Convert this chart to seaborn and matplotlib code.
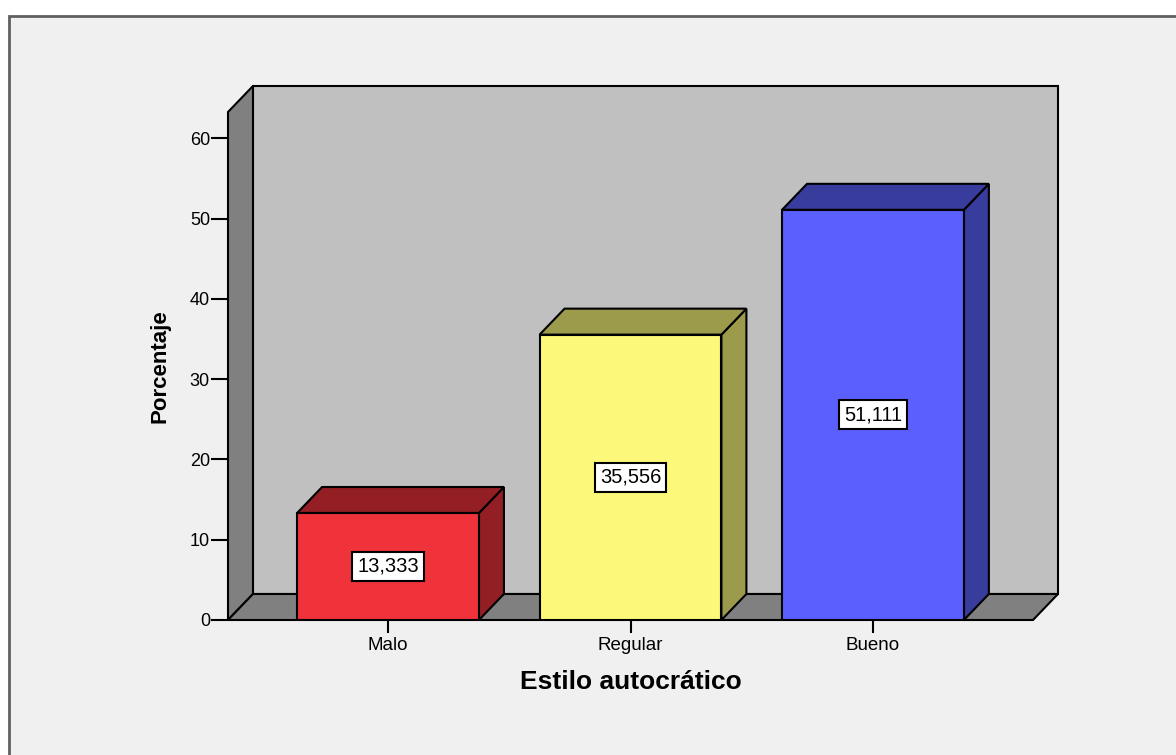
import matplotlib
matplotlib.use("Agg")
import matplotlib.pyplot as plt
from matplotlib.patches import Polygon, Rectangle
import seaborn as sns
import pandas as pd

categories = ["Malo", "Regular", "Bueno"]
values = [13.333, 35.556, 51.111]
front_colors = ["#f0323a", "#fbf87a", "#5b5ffe"]
dark_colors = ["#931e23", "#9c9a4b", "#383c9c"]
yticks = [0, 10, 20, 30, 40, 50, 60]
xlabel = "Estilo autocrático"
ylabel = "Porcentaje"

sns.set_theme(style="white")
plt.rcParams["font.family"] = ["Liberation Sans", "DejaVu Sans"]
plt.rcParams["text.color"] = "black"
plt.rcParams["axes.labelcolor"] = "black"
plt.rcParams["xtick.color"] = "black"
plt.rcParams["ytick.color"] = "black"

W, H = 1176, 755
fig = plt.figure(figsize=(W / 100, H / 100), dpi=100)
fig.patch.set_facecolor("white")
# outer frame
frame = Rectangle((9 / W, -0.05), 1.2, (H - 16) / H + 0.05, transform=fig.transFigure,
                  facecolor="#f0f0f0", edgecolor="#606060", lw=2, zorder=-10)
fig.add_artist(frame)

ax = fig.add_axes([228 / W, (H - 620) / H, 805 / W, 508 / H])
ax.set_zorder(1)
ax.set_facecolor("none")
df = pd.DataFrame({"cat": categories, "val": values})
sns.barplot(data=df, x="cat", y="val", hue="cat", palette=front_colors, width=0.75,
            saturation=1, edgecolor="black", linewidth=1.5, legend=False, ax=ax, zorder=3)

x0, x1 = -0.66, 2.66
ymax = 63.3
ax.set_xlim(x0, x1)
ax.set_ylim(0, ymax)
dx, dy = 0.103, 3.24

def poly(pts, fc, z):
    ax.add_patch(Polygon(pts, closed=True, facecolor=fc, edgecolor="black", lw=1.5,
                         clip_on=False, zorder=z, joinstyle="miter"))

# back wall
poly([(x0 + dx, dy), (x1 + dx, dy), (x1 + dx, ymax + dy), (x0 + dx, ymax + dy)], "#c0c0c0", 0.5)
# left wall
poly([(x0, 0), (x0 + dx, dy), (x0 + dx, ymax + dy), (x0, ymax)], "#808080", 0.6)
# floor
poly([(x0, 0), (x1, 0), (x1 + dx, dy), (x0 + dx, dy)], "#808080", 0.7)

for p, v, dc in zip(ax.patches[:len(values)], values, dark_colors):
    l = p.get_x()
    r = l + p.get_width()
    h = p.get_height()
    poly([(r, 0), (r + dx, dy), (r + dx, h + dy), (r, h)], dc, 2)
    poly([(l, h), (r, h), (r + dx, h + dy), (l + dx, h + dy)], dc, 2)
    ax.text(l + p.get_width() / 2, h / 2, f"{h:.3f}".replace(".", ","), ha="center", va="center",
            fontsize=14.5, zorder=5, color="black",
            bbox=dict(boxstyle="square,pad=0.25", facecolor="white", edgecolor="black", lw=1.5))

for s in ax.spines.values():
    s.set_visible(False)
ax.set_yticks(yticks)
ax.set_yticklabels([str(t) for t in yticks])
ax.tick_params(axis="y", direction="out", length=12, width=1.5, labelsize=13, pad=1,
               left=True)
ax.tick_params(axis="x", direction="out", length=9, width=1.5, labelsize=13.5, pad=3,
               bottom=True)
ax.set_xlabel(xlabel, fontsize=19, fontweight="bold", labelpad=12)
ax.set_ylabel(ylabel, fontsize=16, fontweight="bold", labelpad=14)

fig.savefig("out.png", dpi=100)
